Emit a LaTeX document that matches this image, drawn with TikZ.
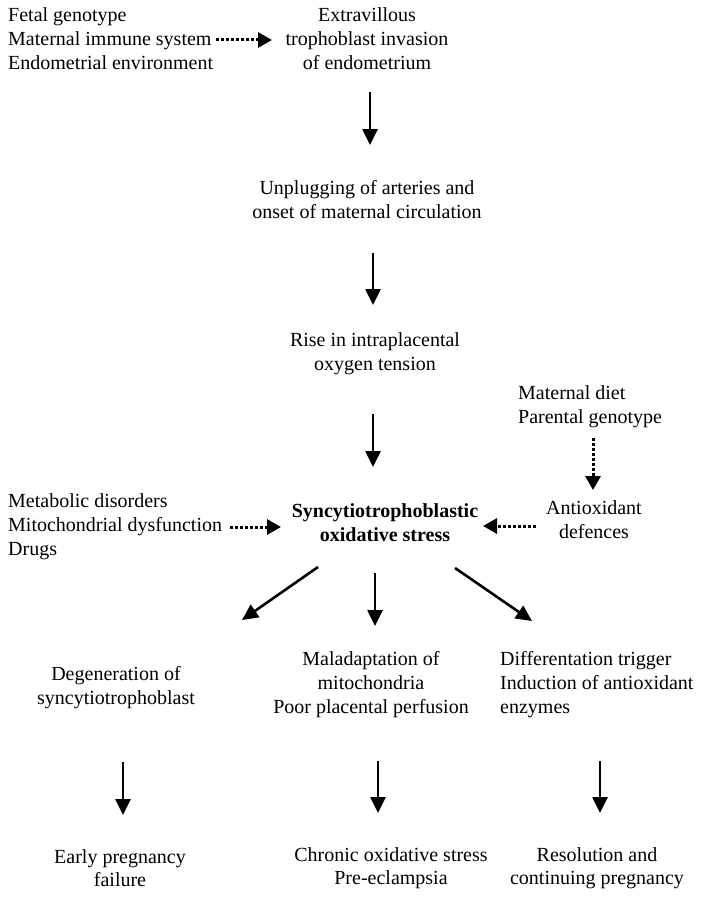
\documentclass[tikz,border=0pt]{standalone}
\usepackage{fontspec}
\setmainfont{Liberation Serif}
\usetikzlibrary{arrows.meta}
\begin{document}
\begin{tikzpicture}[x=1pt,y=-1pt,
  txt/.style={inner sep=0pt,align=center,font=\fontsize{20}{24}\selectfont},
  ltxt/.style={inner sep=0pt,align=left,anchor=west,font=\fontsize{20}{24}\selectfont},
  arr/.style={line width=2.6pt,-{Triangle[length=16pt,width=15pt]}},
  darr/.style={line width=3pt,dash pattern=on 2.6pt off 2.4pt,-{Triangle[length=14pt,width=15pt]}}]
\useasboundingbox[fill=white] (0,0) rectangle (703,899);
% nodes
\node[ltxt] (fetal) at (8,39) {Fetal genotype\\Maternal immune system\\Endometrial environment};
\node[txt] (extra) at (367,39) {Extravillous\\trophoblast invasion\\of endometrium};
\node[txt] (unplug) at (367,200) {Unplugging of arteries and\\onset of maternal circulation};
\node[txt] (rise) at (375,354) {Rise in intraplacental\\oxygen tension};
\node[txt,font=\fontsize{20}{24}\selectfont\bfseries] (syn) at (385,523) {Syncytiotrophoblastic\\oxidative stress};
\node[ltxt] (metab) at (8,527) {Metabolic disorders\\Mitochondrial dysfunction\\Drugs};
\node[ltxt] (matdiet) at (518,407) {Maternal diet\\Parental genotype};
\node[txt] (antiox) at (594,520) {Antioxidant\\defences};
\node[txt] (degen) at (116,688) {Degeneration of\\syncytiotrophoblast};
\node[txt] (malad) at (371,685) {Maladaptation of\\mitochondria\\Poor placental perfusion};
\node[ltxt] (diff) at (500,685) {Differentation trigger\\Induction of antioxidant\\enzymes};
\node[txt,font=\fontsize{20}{23}\selectfont] (early) at (120,868) {Early pregnancy\\failure};
\node[txt,font=\fontsize{20}{23}\selectfont] (chronic) at (391,868) {Chronic oxidative stress\\Pre-eclampsia};
\node[txt,font=\fontsize{20}{23}\selectfont] (resol) at (597,868) {Resolution and\\continuing pregnancy};
% arrow end points
\coordinate (d1s) at (216,40); \coordinate (d1e) at (272,40);
\coordinate (a1s) at (370,92); \coordinate (a1e) at (370,145);
\coordinate (a2s) at (373,253); \coordinate (a2e) at (373,305);
\coordinate (a3s) at (373,414); \coordinate (a3e) at (373,467);
\coordinate (d2s) at (230,527); \coordinate (d2e) at (281,527);
\coordinate (d3s) at (593,438); \coordinate (d3e) at (593,490);
\coordinate (d4s) at (536,526); \coordinate (d4e) at (483,526);
\coordinate (l1s) at (318,567); \coordinate (l1e) at (242,620);
\coordinate (m1s) at (375,573); \coordinate (m1e) at (375,626);
\coordinate (r1s) at (455,568); \coordinate (r1e) at (532,621);
\coordinate (b1s) at (123,762); \coordinate (b1e) at (123,815);
\coordinate (b2s) at (378,761); \coordinate (b2e) at (378,813);
\coordinate (b3s) at (600,761); \coordinate (b3e) at (600,813);
% connectors
\draw[darr] (d1s) -- (d1e);
\draw[arr] (a1s) -- (a1e);
\draw[arr] (a2s) -- (a2e);
\draw[arr] (a3s) -- (a3e);
\draw[darr] (d2s) -- (d2e);
\draw[darr] (d3s) -- (d3e);
\draw[darr] (d4s) -- (d4e);
\draw[arr] (l1s) -- (l1e);
\draw[arr] (m1s) -- (m1e);
\draw[arr] (r1s) -- (r1e);
\draw[arr] (b1s) -- (b1e);
\draw[arr] (b2s) -- (b2e);
\draw[arr] (b3s) -- (b3e);
\end{tikzpicture}
\end{document}
